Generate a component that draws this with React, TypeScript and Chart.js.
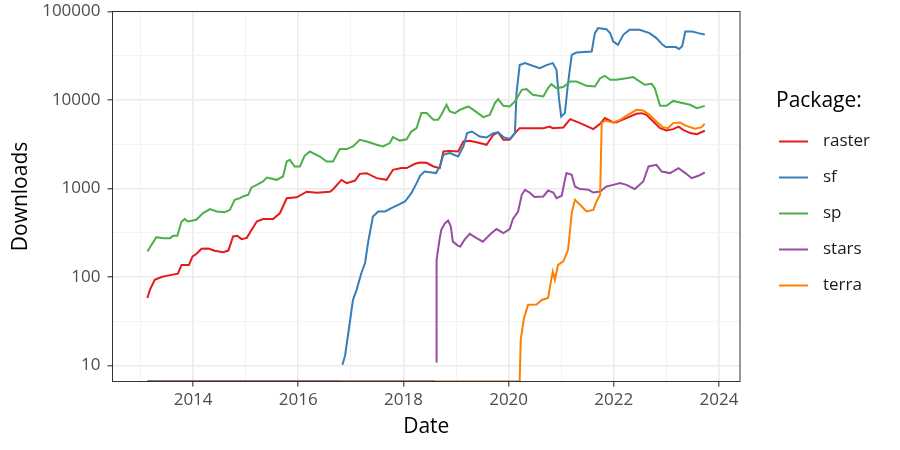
import React, { useEffect, useRef } from "react";
import { Chart, registerables } from "chart.js";

Chart.register(...registerables);

// ---- data -----------------------------------------------------------
const packages = ["raster", "sf", "sp", "stars", "terra"];
const colors = ["#E41A1C", "#377EB8", "#4DAF4A", "#984EA3", "#FF7F00"];

// [decimal year, downloads]; 0 = no downloads (drawn at the panel floor), null = gap
const raster: [number, number | null][] = [
  [2013.13, 58], [2013.18, 72], [2013.27, 93], [2013.40, 100], [2013.49, 103], [2013.71, 109],
  [2013.78, 137], [2013.92, 137], [2013.99, 171], [2014.06, 182], [2014.16, 209], [2014.29, 210],
  [2014.41, 198], [2014.57, 191], [2014.67, 199], [2014.76, 287], [2014.84, 293], [2014.92, 268],
  [2015.02, 277], [2015.21, 424], [2015.33, 451], [2015.52, 451], [2015.65, 525], [2015.78, 776],
  [2015.97, 795], [2016.16, 920], [2016.35, 895], [2016.60, 920], [2016.66, 975], [2016.82, 1250],
  [2016.92, 1150], [2017.08, 1230], [2017.17, 1465], [2017.30, 1490], [2017.49, 1310], [2017.68, 1253],
  [2017.80, 1626], [2017.96, 1700], [2018.06, 1700], [2018.22, 1905], [2018.31, 1970], [2018.44, 1950],
  [2018.57, 1775], [2018.69, 1700], [2018.76, 2620], [2018.88, 2660], [2019.04, 2620], [2019.14, 3400],
  [2019.26, 3465], [2019.45, 3260], [2019.58, 3120], [2019.71, 4050], [2019.80, 4300], [2019.90, 3550],
  [2020.02, 3550], [2020.12, 4230], [2020.21, 4810], [2020.46, 4810], [2020.66, 4810], [2020.78, 5010],
  [2020.84, 4810], [2021.04, 4900], [2021.17, 6080], [2021.36, 5480], [2021.61, 4690], [2021.74, 5380],
  [2021.83, 6250], [2021.99, 5570], [2022.05, 5600], [2022.24, 6250], [2022.43, 7000], [2022.53, 7100],
  [2022.62, 6800], [2022.75, 5710], [2022.88, 4810], [2023.00, 4520], [2023.13, 4690], [2023.23, 5010],
  [2023.32, 4600], [2023.45, 4230], [2023.58, 4100], [2023.73, 4490],
];

const sf: [number, number | null][] = [
  [2013.13, 0], [2016.80, 0], [2016.82, null],
  [2016.84, 10.2], [2016.89, 13], [2016.95, 23], [2017.04, 55], [2017.11, 72], [2017.20, 111],
  [2017.27, 144], [2017.33, 251], [2017.42, 483], [2017.52, 550], [2017.65, 550], [2017.77, 600],
  [2017.90, 655], [2018.03, 713], [2018.15, 887], [2018.25, 1150], [2018.32, 1400], [2018.40, 1555],
  [2018.62, 1494], [2018.69, 1775], [2018.76, 2405], [2018.88, 2510], [2019.04, 2300], [2019.14, 2985],
  [2019.21, 4230], [2019.30, 4410], [2019.45, 3870], [2019.58, 3770], [2019.71, 4230], [2019.80, 4320],
  [2019.90, 3810], [2020.02, 3620], [2020.12, 4230], [2020.15, 11970], [2020.21, 24800], [2020.31, 26100],
  [2020.59, 22900], [2020.72, 24800], [2020.84, 26100], [2020.91, 21900], [2020.96, 10000], [2021.00, 6500],
  [2021.07, 7110], [2021.13, 15500], [2021.20, 32400], [2021.29, 34400], [2021.58, 35300], [2021.64, 57000],
  [2021.70, 64900], [2021.86, 63200], [2021.93, 57000], [2021.99, 45800], [2022.08, 42000], [2022.18, 54500],
  [2022.30, 62100], [2022.49, 62100], [2022.68, 57000], [2022.81, 50100], [2022.93, 42000], [2022.99, 39600],
  [2023.18, 39600], [2023.24, 37600], [2023.30, 40400], [2023.36, 59400], [2023.49, 59400], [2023.61, 57000],
  [2023.73, 55000],
];

const sp: [number, number | null][] = [
  [2013.13, 194], [2013.21, 231], [2013.30, 282], [2013.43, 275], [2013.56, 275], [2013.62, 292],
  [2013.70, 292], [2013.78, 424], [2013.84, 451], [2013.90, 424], [2014.06, 443], [2014.19, 527],
  [2014.32, 585], [2014.45, 550], [2014.60, 541], [2014.70, 574], [2014.79, 745], [2014.89, 778],
  [2014.95, 813], [2015.05, 849], [2015.11, 1030], [2015.21, 1100], [2015.33, 1200], [2015.40, 1330],
  [2015.59, 1253], [2015.71, 1367], [2015.78, 2020], [2015.84, 2110], [2015.93, 1775], [2016.03, 1775],
  [2016.12, 2345], [2016.22, 2620], [2016.41, 2300], [2016.54, 2020], [2016.66, 2020], [2016.79, 2790],
  [2016.92, 2790], [2017.04, 2985], [2017.17, 3550], [2017.30, 3400], [2017.49, 3120], [2017.61, 2985],
  [2017.74, 3260], [2017.80, 3800], [2017.93, 3480], [2018.06, 3600], [2018.15, 4400], [2018.25, 4810],
  [2018.34, 7110], [2018.44, 7110], [2018.57, 5970], [2018.66, 5970], [2018.72, 6800], [2018.82, 8830],
  [2018.88, 7410], [2018.98, 7110], [2019.07, 7740], [2019.23, 8450], [2019.33, 7740], [2019.52, 6410],
  [2019.64, 6800], [2019.74, 9230], [2019.80, 10230], [2019.90, 8590], [2020.02, 8450], [2020.12, 9620],
  [2020.25, 13030], [2020.34, 13270], [2020.46, 11450], [2020.66, 10960], [2020.75, 13630], [2020.81, 15130],
  [2020.91, 13630], [2021.04, 14000], [2021.17, 16200], [2021.29, 16200], [2021.48, 14450], [2021.64, 14220],
  [2021.74, 17650], [2021.83, 18760], [2021.93, 16900], [2022.05, 16900], [2022.24, 17650], [2022.37, 18160],
  [2022.49, 16200], [2022.59, 14860], [2022.72, 15250], [2022.78, 13630], [2022.88, 8590], [2023.00, 8590],
  [2023.13, 9770], [2023.26, 9380], [2023.45, 8830], [2023.58, 8090], [2023.73, 8590],
];

const stars: [number, number | null][] = [
  [2013.13, 0], [2018.60, 0], [2018.61, null],
  [2018.62, 11], [2018.63, 156], [2018.69, 275], [2018.72, 341], [2018.79, 406], [2018.85, 435],
  [2018.90, 372], [2018.94, 251], [2019.04, 225], [2019.08, 221], [2019.16, 263], [2019.26, 307],
  [2019.39, 275], [2019.51, 251], [2019.64, 300], [2019.77, 348], [2019.90, 313], [2020.02, 348],
  [2020.08, 451], [2020.18, 550], [2020.25, 849], [2020.31, 966], [2020.40, 901], [2020.49, 800],
  [2020.66, 813], [2020.75, 949], [2020.85, 901], [2020.91, 778], [2021.01, 828], [2021.07, 1253],
  [2021.10, 1494], [2021.20, 1430], [2021.26, 1054], [2021.36, 985], [2021.52, 966], [2021.61, 901],
  [2021.74, 925], [2021.86, 1054], [2021.99, 1100], [2022.12, 1150], [2022.24, 1100], [2022.40, 985],
  [2022.56, 1200], [2022.66, 1775], [2022.81, 1853], [2022.91, 1555], [2023.07, 1494], [2023.23, 1700],
  [2023.36, 1494], [2023.48, 1310], [2023.61, 1393], [2023.73, 1517],
];

const terra: [number, number | null][] = [
  [2013.13, 0], [2020.21, 0], [2020.23, 19.5], [2020.29, 34], [2020.37, 48.5], [2020.53, 49],
  [2020.63, 55], [2020.75, 58], [2020.81, 93], [2020.84, 115], [2020.88, 93], [2020.94, 137],
  [2021.04, 150], [2021.13, 203], [2021.20, 527], [2021.26, 745], [2021.36, 655], [2021.48, 550],
  [2021.61, 574], [2021.67, 713], [2021.74, 849], [2021.77, 5480], [2021.83, 5870], [2021.99, 5570],
  [2022.12, 5970], [2022.24, 6620], [2022.43, 7740], [2022.56, 7600], [2022.68, 6800], [2022.81, 5710],
  [2022.93, 4940], [2023.03, 4810], [2023.13, 5480], [2023.26, 5570], [2023.38, 5100], [2023.54, 4730],
  [2023.66, 4900], [2023.73, 5380],
];

const xMajorYears = [2014, 2016, 2018, 2020, 2022, 2024];
const xMinorYears = [2013, 2015, 2017, 2019, 2021, 2023];
const yMajorTicks = [10, 100, 1000, 10000, 100000];
const yMinorTicks = [31.62, 316.2, 3162, 31623];
const yTickLabels = ["10", "100", "1000", "10000", "100000"];

const X_MIN = 2012.467;
const X_MAX = 2024.4;
const Y_MIN = 6.6;
const Y_MAX = 100000;

const FONT = "'Open Sans', 'Noto Sans', sans-serif";

function floorColor(hex: string): string {
  const r = parseInt(hex.slice(1, 3), 16);
  const g = parseInt(hex.slice(3, 5), 16);
  const b = parseInt(hex.slice(5, 7), 16);
  const m = (c: number) => Math.round(c * 0.45 + 90 * 0.55);
  return `rgb(${m(r)},${m(g)},${m(b)})`;
}

export default function App() {
  const canvasRef = useRef<HTMLCanvasElement | null>(null);

  useEffect(() => {
    const canvas = canvasRef.current;
    if (!canvas) return;
    const seriesList = [raster, sf, sp, stars, terra];

    const datasets = seriesList.map((s, i) => ({
      label: packages[i],
      data: s.map(([x, y]) => ({ x, y: y === null ? null : y === 0 ? Y_MIN : y })),
      borderColor: colors[i],
      backgroundColor: colors[i],
      borderWidth: 2,
      pointRadius: 0,
      tension: 0,
      spanGaps: false,
      order: seriesList.length - i,
      segment: {
        borderColor: (ctx: any) =>
          ctx.p0.parsed.y <= Y_MIN * 1.001 && ctx.p1.parsed.y <= Y_MIN * 1.001
            ? floorColor(colors[i])
            : undefined,
      },
    }));

    const panelBorder = {
      id: "panelBorder",
      afterDatasetsDraw(chart: any) {
        const { ctx, chartArea } = chart;
        ctx.save();
        ctx.strokeStyle = "#333333";
        ctx.lineWidth = 1;
        ctx.strokeRect(chartArea.left, chartArea.top, chartArea.right - chartArea.left, chartArea.bottom - chartArea.top);
        ctx.restore();
      },
    };

    const customLegend = {
      id: "customLegend",
      afterDraw(chart: any) {
        const { ctx } = chart;
        ctx.save();
        ctx.fillStyle = "#000000";
        ctx.textBaseline = "middle";
        ctx.textAlign = "left";
        ctx.font = `21px ${FONT}`;
        ctx.fillText("Package:", 776, 101);
        ctx.font = `17px ${FONT}`;
        packages.forEach((p, i) => {
          const y = 141.5 + i * 36;
          ctx.strokeStyle = colors[i];
          ctx.lineWidth = 2;
          ctx.beginPath();
          ctx.moveTo(779, y);
          ctx.lineTo(808, y);
          ctx.stroke();
          ctx.fillStyle = "#1a1a1a";
          ctx.fillText(p, 823, y);
        });
        ctx.restore();
      },
    };

    const chart = new Chart(canvas, {
      type: "line",
      data: { datasets },
      options: {
        animation: false,
        responsive: false,
        maintainAspectRatio: false,
        layout: { padding: { left: 0, right: 160, top: 11.5, bottom: 0 } },
        plugins: { legend: { display: false }, tooltip: { enabled: false } },
        scales: {
          x: {
            type: "linear",
            min: X_MIN,
            max: X_MAX,
            afterBuildTicks: (scale: any) => {
              scale.ticks = [...xMinorYears, ...xMajorYears].sort((a, b) => a - b).map((v) => ({ value: v }));
            },
            afterFit: (scale: any) => {
              scale.height = 68.5;
              scale.paddingLeft = 0;
              scale.paddingRight = 0;
            },
            border: { display: false },
            grid: {
              color: (ctx: any) => (ctx.tick && xMajorYears.includes(ctx.tick.value) ? "#ebebeb" : "#f2f2f2"),
              lineWidth: (ctx: any) => (ctx.tick && xMajorYears.includes(ctx.tick.value) ? 1.6 : 0.9),
              tickColor: (ctx: any) => (ctx.tick && xMajorYears.includes(ctx.tick.value) ? "#333333" : "rgba(0,0,0,0)"),
              tickLength: 5,
              tickWidth: 1.1,
            },
            ticks: {
              autoSkip: false,
              maxRotation: 0,
              padding: 3,
              color: "#4d4d4d",
              font: { family: FONT, size: 17 },
              callback: (v: any) => {
                const idx = xMajorYears.indexOf(Number(v));
                return idx >= 0 ? String(xMajorYears[idx]) : "";
              },
            },
            title: {
              display: true,
              text: "Date",
              color: "#000000",
              font: { family: FONT, size: 21 },
              padding: { top: 0, bottom: 10 },
            },
          },
          y: {
            type: "logarithmic",
            min: Y_MIN,
            max: Y_MAX,
            afterBuildTicks: (scale: any) => {
              scale.ticks = [...yMajorTicks, ...yMinorTicks].sort((a, b) => a - b).map((v) => ({ value: v }));
            },
            afterFit: (scale: any) => {
              scale.width = 112.5;
              scale.paddingTop = 0;
              scale.paddingBottom = 0;
            },
            border: { display: false },
            grid: {
              color: (ctx: any) => (ctx.tick && yMajorTicks.includes(ctx.tick.value) ? "#ebebeb" : "#f2f2f2"),
              lineWidth: (ctx: any) => (ctx.tick && yMajorTicks.includes(ctx.tick.value) ? 1.6 : 0.9),
              tickColor: (ctx: any) => (ctx.tick && yMajorTicks.includes(ctx.tick.value) ? "#333333" : "rgba(0,0,0,0)"),
              tickLength: 5,
              tickWidth: 1.1,
            },
            ticks: {
              autoSkip: false,
              padding: 7,
              color: "#4d4d4d",
              font: { family: FONT, size: 17 },
              callback: (v: any) => {
                const idx = yMajorTicks.indexOf(Number(v));
                return idx >= 0 ? yTickLabels[idx] : "";
              },
            },
            title: {
              display: true,
              text: "Downloads",
              color: "#000000",
              font: { family: FONT, size: 21 },
              padding: { top: 8, bottom: 0 },
            },
          },
        },
      },
      plugins: [panelBorder, customLegend],
    } as any);

    return () => chart.destroy();
  }, []);

  return (
    <div style={{ position: "absolute", left: 0, top: 0, width: 900, height: 450, background: "#ffffff" }}>
      <canvas ref={canvasRef} width={900} height={450} style={{ display: "block", width: 900, height: 450 }} />
    </div>
  );
}
